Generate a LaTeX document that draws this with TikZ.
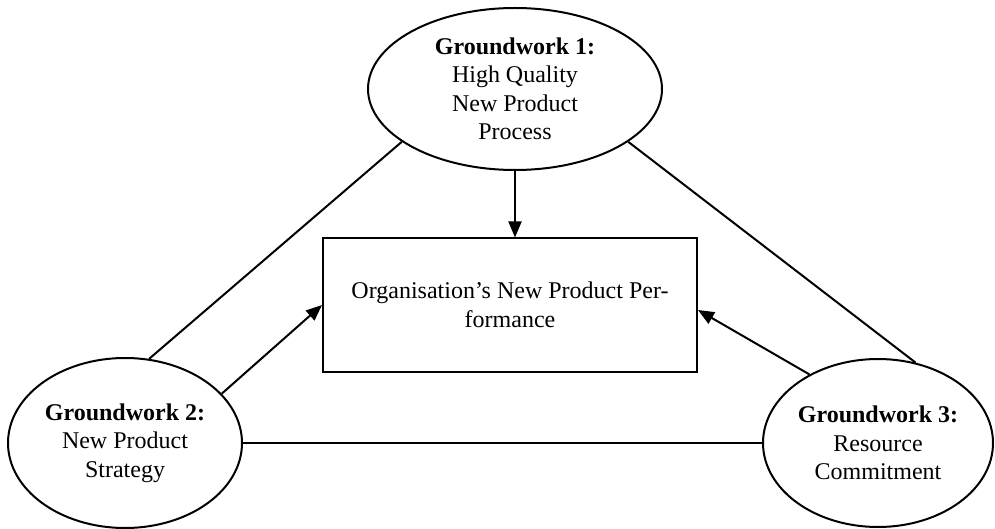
\documentclass[tikz,border=0pt]{standalone}
\usepackage{fontspec}
\setmainfont{Liberation Serif}
\usetikzlibrary{shapes.geometric,arrows.meta}
\begin{document}
\begin{tikzpicture}[x=1pt,y=-1pt,
  every node/.style={font=\fontsize{24}{28.5}\selectfont, align=center},
  gw/.style={draw, line width=2pt, ellipse, inner sep=0pt},
  box/.style={draw, line width=2pt, inner sep=0pt, minimum width=374pt, minimum height=133pt},
  link/.style={line width=2pt},
  arr/.style={line width=2pt, -{Triangle[length=16pt,width=13pt]}}]
\useasboundingbox (0,0) rectangle (995,529);
\node[gw, minimum width=294pt, minimum height=162pt] (g1) at (515,89)
  {\textbf{Groundwork 1:}\\High Quality\\New Product\\Process};
\node[gw, minimum width=234pt, minimum height=170pt] (g2) at (125,443)
  {\textbf{Groundwork 2:}\\New Product\\Strategy};
\node[gw, minimum width=230pt, minimum height=168pt] (g3) at (878,443)
  {\textbf{Groundwork 3:}\\Resource\\Commitment};
\node[box] (perf) at (510,305) {Organisation’s New Product Per-\\formance};
\draw[link] (g1.205) -- (g2.74);
\draw[link] (g1.335) -- (g3.65);
\draw[link] (g2.east) -- (g3.west);
\draw[arr] (g1.south) -- (g1.south |- perf.north);
\draw[arr] (g2.27) -- (perf.west);
\draw[arr] (g3.135) -- ([yshift=-5pt]perf.east);
\end{tikzpicture}
\end{document}
